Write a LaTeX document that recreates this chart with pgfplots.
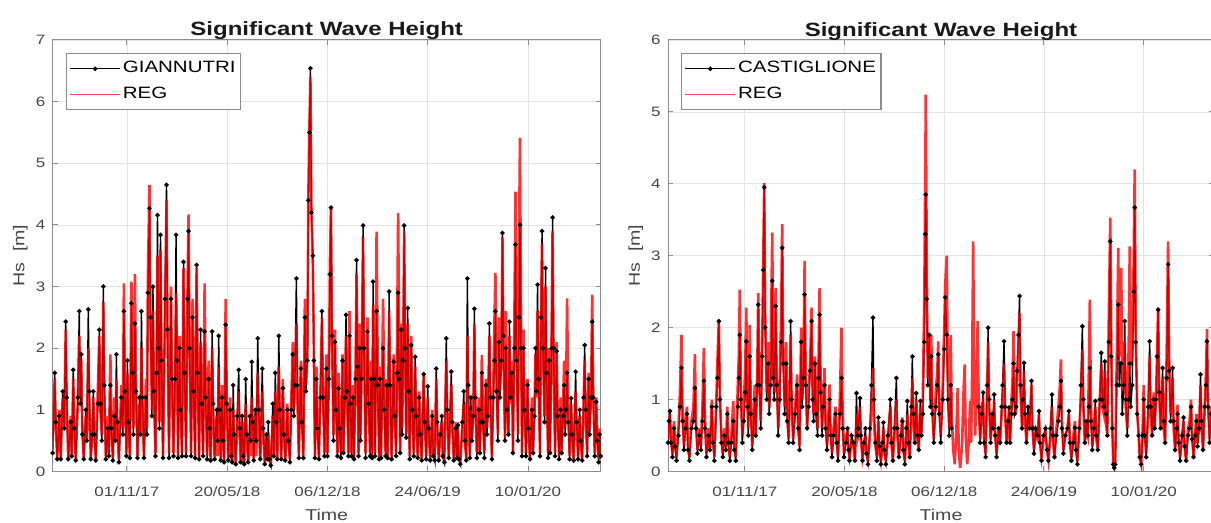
\documentclass[border=0pt]{standalone}
\usepackage{fontspec}
\setmainfont{Liberation Sans}[FakeStretch=1.25]
\usepackage{pgfplots}
\pgfplotsset{compat=1.18}
\usepackage{pgfplotstable}
\definecolor{axgray}{RGB}{140,140,140}
\definecolor{txtgray}{RGB}{70,70,70}
\definecolor{gridgray}{RGB}{228,228,228}

\pgfplotstableread[row sep=\\]{
d o r\\
-148 0.3 0.5\\ -144 1.6 1.5\\ -142 0.8 0.8\\ -139 0.2 0.22\\ -135 0.9 1.0\\ -132 0.2 0.2\\ -128 1.3 1.2\\ -125 0.7 0.7\\
-122 2.43 2.3\\ -120 1.2 1.1\\ -117 0.2 0.2\\ -112 0.8 0.9\\ -110 0.25 0.25\\ -107 1.65 1.5\\ -105 0.7 0.8\\ -102 0.18 0.2\\
-98 1.2 1.1\\ -95 2.6 2.2\\ -93 1.1 1.2\\ -91 1.9 1.8\\ -89 0.6 0.7\\ -86 0.2 0.2\\ -82 1.0 0.9\\ -80 0.5 0.5\\
-77 2.63 2.0\\ -75 1.3 1.1\\ -72 0.2 0.22\\ -69 0.6 0.6\\ -67 1.3 1.2\\ -65 0.6 0.6\\ -62 0.18 0.2\\ -58 1.1 1.3\\
-55 2.3 2.2\\ -53 1.1 1.0\\ -50 0.5 0.6\\ -47 3.0 2.75\\ -45 1.4 1.3\\ -42 0.2 0.22\\ -38 0.7 0.9\\ -36 0.25 0.3\\
-33 1.4 1.9\\ -31 0.7 0.8\\ -28 0.18 0.2\\ -25 0.9 1.2\\ -23 0.5 0.5\\ -21 1.9 1.5\\ -19 0.8 0.7\\ -16 0.15 0.18\\
-11 1.2 1.4\\ -8 0.6 0.7\\ -6 2.6 3.05\\ -4 1.3 1.4\\ -1 0.25 0.3\\ 1 1.8 1.6\\ 3 0.8 0.8\\ 6 0.22 0.25\\
9 2.73 3.08\\ 11 1.6 1.8\\ 13 0.6 0.7\\ 16 2.4 3.2\\ 18 1.3 1.5\\ 21 0.22 0.25\\ 25 1.2 1.1\\ 27 0.6 0.6\\
29 2.6 2.0\\ 31 1.2 1.0\\ 34 0.22 0.25\\ 38 1.2 1.5\\ 40 0.6 0.7\\ 42 2.9 3.2\\ 45 4.27 4.65\\ 47 2.5 2.4\\
50 0.9 1.0\\ 52 3.0 2.6\\ 54 1.3 1.2\\ 57 0.25 0.3\\ 59 1.6 1.5\\ 61 4.16 3.5\\ 63 2.0 1.9\\ 65 0.7 0.8\\
67 3.84 3.6\\ 69 1.8 1.9\\ 72 0.22 0.25\\ 76 2.8 2.5\\ 79 4.65 4.4\\ 81 2.3 2.2\\ 84 0.22 0.3\\ 88 2.8 3.0\\
90 1.5 1.4\\ 93 0.25 0.3\\ 96 1.5 1.4\\ 98 3.84 2.9\\ 100 1.8 1.6\\ 102 0.22 0.25\\ 105 2.0 2.2\\ 107 1.0 1.0\\
110 0.25 0.3\\ 113 3.4 3.3\\ 115 1.6 1.8\\ 118 0.25 0.3\\ 121 2.8 3.0\\ 123 3.9 4.17\\ 125 2.0 2.1\\ 128 0.25 0.3\\
131 2.5 2.8\\ 133 1.3 1.4\\ 136 0.22 0.25\\ 139 3.35 3.3\\ 141 1.6 1.7\\ 144 0.2 0.22\\ 147 2.3 2.1\\ 149 1.1 1.1\\
152 0.25 0.3\\ 155 2.27 3.05\\ 157 1.2 1.4\\ 160 0.2 0.25\\ 163 1.5 1.8\\ 165 0.7 0.8\\ 167 0.18 0.2\\ 170 2.27 2.0\\
172 1.1 1.0\\ 175 0.2 0.22\\ 179 1.0 0.9\\ 181 0.5 0.25\\ 183 2.2 1.7\\ 185 1.0 0.8\\ 187 0.18 0.2\\ 190 1.2 1.4\\
192 0.5 0.6\\ 194 0.15 0.18\\ 197 2.38 2.8\\ 199 1.1 1.3\\ 202 0.18 0.2\\ 206 1.0 1.2\\ 208 0.25 0.3\\ 210 0.15 0.15\\
212 1.4 1.0\\ 214 0.6 0.5\\ 217 0.12 0.15\\ 220 0.9 0.7\\ 223 1.65 1.3\\ 225 0.7 0.6\\ 227 0.15 0.15\\ 230 0.9 0.8\\
232 0.25 0.22\\ 234 0.12 0.12\\ 237 1.5 1.1\\ 239 0.6 0.5\\ 242 0.15 0.15\\ 245 0.9 0.6\\ 247 0.5 0.25\\ 249 1.78 1.2\\
251 0.8 0.6\\ 253 0.18 0.2\\ 256 1.0 0.9\\ 258 0.5 0.25\\ 261 2.16 1.6\\ 263 1.0 0.8\\ 266 0.2 0.2\\ 270 1.67 1.3\\
272 0.7 0.6\\ 275 0.12 0.15\\ 278 0.6 0.5\\ 280 0.2 0.2\\ 282 0.8 0.6\\ 284 0.2 0.18\\ 287 0.1 0.12\\ 291 1.1 0.9\\
293 0.25 0.25\\ 296 1.6 1.3\\ 298 0.8 0.7\\ 300 0.2 0.2\\ 303 2.2 1.7\\ 305 1.0 0.8\\ 308 0.2 0.22\\ 311 1.35 1.5\\
313 0.6 0.7\\ 316 0.18 0.2\\ 320 1.0 1.1\\ 322 0.5 0.5\\ 325 0.15 0.2\\ 328 1.0 1.2\\ 331 1.9 2.1\\ 333 0.9 1.0\\
335 1.4 1.3\\ 338 3.13 2.4\\ 340 1.4 1.2\\ 343 0.22 0.25\\ 347 1.67 1.8\\ 349 0.8 0.9\\ 352 0.22 0.25\\ 355 2.5 2.8\\
357 1.3 1.4\\ 360 1.8 1.9\\ 362 4.4 4.5\\ 364 5.5 5.6\\ 366 6.54 6.4\\ 368 4.2 4.3\\ 371 3.5 3.3\\ 373 1.8 1.9\\
375 0.22 0.25\\ 378 1.5 1.7\\ 380 0.7 0.8\\ 383 0.2 0.22\\ 386 1.2 1.3\\ 389 2.6 2.5\\ 391 1.2 1.3\\ 394 0.25 0.3\\
398 1.67 1.9\\ 400 0.25 0.3\\ 403 1.5 1.6\\ 405 3.2 3.4\\ 407 4.28 4.3\\ 409 2.2 2.3\\ 412 0.5 0.6\\ 415 2.1 2.3\\
417 1.0 1.1\\ 420 0.25 0.3\\ 422 1.35 1.6\\ 424 0.7 0.8\\ 427 0.22 0.3\\ 430 1.8 1.9\\ 432 0.3 0.3\\ 435 1.2 1.3\\
437 2.54 2.2\\ 439 1.3 1.2\\ 442 0.25 0.3\\ 444 2.2 2.6\\ 446 1.1 1.3\\ 448 0.25 0.3\\ 451 1.2 1.4\\ 453 0.2 0.22\\
456 1.5 1.6\\ 458 3.43 3.2\\ 460 1.7 1.8\\ 462 0.25 0.3\\ 464 2.0 2.4\\ 466 0.5 0.6\\ 468 1.5 1.6\\ 471 3.99 3.8\\
473 2.0 2.1\\ 476 0.22 0.3\\ 480 2.27 2.5\\ 482 1.1 1.2\\ 485 0.25 0.3\\ 487 1.5 1.8\\ 489 0.22 0.25\\ 491 3.08 2.7\\
493 1.5 1.5\\ 495 0.25 0.3\\ 498 2.6 3.89\\ 500 1.4 1.9\\ 503 0.2 0.22\\ 505 1.5 1.7\\ 507 0.22 0.25\\ 511 2.0 2.8\\
513 1.0 1.3\\ 516 0.25 0.3\\ 518 1.4 1.5\\ 520 0.22 0.25\\ 523 2.92 2.6\\ 525 1.4 1.3\\ 528 0.2 0.22\\ 532 1.78 1.9\\
534 0.9 0.9\\ 537 0.25 0.3\\ 539 1.6 2.2\\ 541 2.9 4.19\\ 543 1.5 2.0\\ 545 0.3 0.3\\ 547 2.3 2.4\\ 549 0.6 0.7\\
551 1.8 1.9\\ 553 3.99 3.9\\ 555 2.0 2.0\\ 557 0.55 0.6\\ 560 2.65 2.4\\ 562 1.3 1.2\\ 564 0.2 0.25\\ 567 2.05 2.2\\
569 1.0 1.1\\ 572 0.25 0.3\\ 575 1.86 1.7\\ 577 0.9 0.8\\ 580 0.22 0.25\\ 583 1.2 1.3\\ 585 0.6 0.6\\ 588 0.18 0.2\\
592 1.58 1.6\\ 594 0.8 0.8\\ 597 0.2 0.25\\ 600 1.38 1.2\\ 602 0.7 0.6\\ 605 0.18 0.2\\ 609 0.9 1.0\\ 611 0.25 0.3\\
614 0.18 0.2\\ 617 1.67 1.5\\ 619 0.8 0.7\\ 622 0.18 0.2\\ 625 0.6 0.6\\ 628 0.9 0.8\\ 630 0.25 0.25\\ 633 0.15 0.18\\
637 2.16 1.8\\ 639 1.0 0.9\\ 642 0.22 0.25\\ 647 1.62 1.4\\ 649 0.8 0.7\\ 652 0.18 0.2\\ 656 0.7 0.8\\ 658 0.22 0.25\\
660 0.75 0.8\\ 662 0.2 0.22\\ 665 0.12 0.15\\ 669 0.8 0.7\\ 672 1.3 1.1\\ 674 0.5 0.5\\ 677 0.18 0.2\\ 679 3.13 2.2\\
681 1.4 1.0\\ 684 0.22 0.25\\ 686 1.2 1.0\\ 688 0.5 0.5\\ 691 0.9 1.0\\ 693 2.64 2.4\\ 695 1.2 1.1\\ 698 0.22 0.3\\
702 1.0 1.2\\ 704 0.3 0.3\\ 706 0.8 0.9\\ 708 1.6 1.89\\ 710 0.8 0.9\\ 713 0.22 0.3\\ 716 1.4 1.5\\ 718 0.6 0.7\\
720 0.9 1.0\\ 723 2.4 2.2\\ 725 1.2 1.1\\ 728 0.2 0.22\\ 731 1.2 1.5\\ 733 1.8 2.4\\ 735 2.6 3.22\\ 737 1.3 1.6\\
740 0.5 0.6\\ 742 2.1 2.5\\ 744 1.2 1.3\\ 747 1.8 1.9\\ 749 3.87 3.8\\ 751 2.2 2.0\\ 754 0.5 0.55\\ 756 2.0 2.6\\
758 1.0 1.3\\ 761 0.6 0.6\\ 763 2.43 2.2\\ 765 1.2 1.1\\ 768 1.6 1.8\\ 770 0.3 0.3\\ 773 2.0 2.6\\ 775 3.68 4.54\\
777 1.8 2.3\\ 780 0.5 0.6\\ 782 2.5 3.6\\ 784 4.0 5.41\\ 786 2.0 2.6\\ 788 0.25 0.3\\ 791 2.0 2.3\\ 793 1.0 1.1\\
796 0.25 0.3\\ 799 1.4 1.5\\ 801 0.7 0.7\\ 804 0.2 0.22\\ 808 1.0 1.2\\ 810 0.3 0.3\\ 813 0.9 1.0\\ 815 2.0 1.9\\
817 1.3 1.2\\ 819 3.03 2.6\\ 821 1.5 1.4\\ 824 0.25 0.3\\ 826 2.5 2.6\\ 828 3.9 3.7\\ 830 2.0 1.9\\ 833 0.8 0.9\\
835 3.3 3.0\\ 837 1.6 1.5\\ 840 0.22 0.3\\ 842 1.8 2.0\\ 844 0.3 0.3\\ 847 2.0 2.2\\ 849 4.12 3.9\\ 851 2.0 1.9\\
854 0.25 0.3\\ 857 1.95 2.1\\ 859 0.9 1.0\\ 862 0.2 0.25\\ 865 1.0 1.2\\ 867 0.3 0.3\\ 870 0.9 1.0\\ 872 1.4 1.8\\
874 0.6 0.7\\ 876 1.0 1.3\\ 878 1.6 2.81\\ 880 0.8 1.2\\ 883 0.2 0.25\\ 886 1.19 1.1\\ 888 0.6 0.6\\ 891 0.18 0.2\\
895 1.62 1.3\\ 897 0.8 0.7\\ 900 0.2 0.22\\ 903 1.0 0.9\\ 905 0.5 0.5\\ 908 0.18 0.2\\ 911 1.2 1.1\\ 913 2.05 1.8\\
915 1.0 0.9\\ 918 0.25 0.3\\ 921 1.5 1.6\\ 923 0.6 0.7\\ 926 1.2 1.3\\ 928 2.43 2.87\\ 930 1.2 1.4\\ 933 0.25 0.3\\
936 1.13 1.2\\ 938 0.5 0.6\\ 941 0.15 0.2\\ 943 0.6 0.7\\ 945 0.25 0.3\\
}\leftdata

\pgfplotstableread[row sep=\\]{
d o r\\
-154 0.4 0.45\\ -152 0.7 0.6\\ -150 0.84 0.8\\ -148 0.4 0.45\\ -145 0.2 0.25\\ -142 0.6 0.7\\ -140 0.35 0.4\\ -137 0.15 0.2\\
-133 0.5 0.6\\ -130 0.9 1.1\\ -127 1.44 1.9\\ -125 0.7 0.9\\ -122 0.3 0.35\\ -119 0.6 0.7\\ -116 0.8 0.9\\ -114 0.3 0.35\\
-111 0.15 0.2\\ -107 0.6 0.7\\ -103 0.7 0.9\\ -100 1.16 1.63\\ -98 0.6 0.7\\ -95 0.25 0.3\\ -91 0.5 0.6\\ -88 0.3 0.35\\
-85 0.7 0.9\\ -82 1.26 1.72\\ -80 0.6 0.8\\ -77 0.2 0.25\\ -73 0.5 0.6\\ -70 0.3 0.3\\ -66 0.9 1.0\\ -64 0.4 0.5\\
-61 0.15 0.2\\ -57 0.9 1.0\\ -55 1.3 1.5\\ -52 2.09 2.11\\ -50 1.0 1.1\\ -47 0.4 0.5\\ -44 0.2 0.25\\ -41 0.5 0.6\\
-38 0.3 0.35\\ -35 0.8 0.9\\ -33 0.4 0.4\\ -30 0.15 0.2\\ -27 0.4 0.5\\ -23 0.7 0.98\\ -21 0.3 0.35\\ -18 0.15 0.2\\
-14 0.9 1.2\\ -12 1.3 1.6\\ -10 1.9 2.53\\ -8 1.0 1.2\\ -5 0.4 0.5\\ -2 0.7 0.9\\ 1 1.1 1.5\\ 3 1.81 2.28\\
5 0.9 1.1\\ 7 0.5 0.6\\ 10 1.6 2.04\\ 12 0.8 0.9\\ 15 0.3 0.35\\ 20 1.0 1.2\\ 22 0.5 0.5\\ 25 1.2 1.4\\
27 2.32 2.48\\ 29 1.2 1.3\\ 32 0.6 0.7\\ 35 1.6 1.8\\ 37 2.8 2.9\\ 39 3.95 4.01\\ 41 2.0 2.1\\ 44 1.0 1.1\\
47 1.5 1.8\\ 49 0.8 0.9\\ 52 1.2 1.6\\ 55 2.65 3.32\\ 57 1.3 1.6\\ 59 1.0 1.1\\ 62 2.3 2.55\\ 64 1.2 1.3\\
67 0.5 0.6\\ 70 1.0 1.2\\ 73 1.8 2.2\\ 75 3.11 3.44\\ 77 1.5 1.7\\ 80 0.8 0.9\\ 83 1.5 1.8\\ 85 0.7 0.8\\
88 0.4 0.45\\ 92 2.09 1.9\\ 94 1.0 0.9\\ 97 0.4 0.45\\ 101 0.8 0.9\\ 105 1.2 1.35\\ 107 0.6 0.6\\ 110 0.3 0.35\\
113 1.8 2.0\\ 115 0.9 1.0\\ 118 1.3 1.6\\ 120 2.46 2.93\\ 122 1.2 1.4\\ 125 0.6 0.6\\ 128 0.9 1.1\\ 131 1.4 1.5\\
134 2.09 2.28\\ 136 1.0 1.1\\ 138 0.7 0.8\\ 141 1.5 1.6\\ 143 0.8 0.8\\ 146 0.5 0.6\\ 148 1.3 1.6\\ 150 2.18 2.55\\
152 1.1 1.3\\ 155 0.5 0.6\\ 157 0.9 1.0\\ 160 1.2 1.44\\ 162 0.6 0.7\\ 165 0.3 0.35\\ 170 1.0 1.21\\ 172 0.5 0.6\\
175 0.2 0.25\\ 178 0.5 0.6\\ 182 0.8 0.9\\ 184 0.4 0.45\\ 187 0.15 0.2\\ 191 0.8 1.1\\ 194 1.3 2.0\\ 196 0.6 0.9\\
199 0.2 0.25\\ 203 0.4 0.5\\ 206 0.6 0.55\\ 208 0.3 0.3\\ 210 0.15 0.2\\ 214 0.5 0.4\\ 218 0.4 0.35\\ 221 0.15 0.15\\
224 1.09 0.8\\ 226 0.5 0.45\\ 228 0.6 0.5\\ 231 1.02 0.9\\ 233 0.5 0.45\\ 236 0.15 0.2\\ 239 0.4 0.35\\ 242 0.6 0.5\\
244 0.25 0.25\\ 247 0.1 0.15\\ 251 0.6 0.5\\ 254 1.2 0.9\\ 257 2.14 1.44\\ 259 1.0 0.7\\ 262 0.4 0.35\\ 265 0.15 0.2\\
268 0.75 0.7\\ 270 0.35 0.3\\ 273 0.1 0.15\\ 276 0.4 0.35\\ 278 0.68 0.6\\ 280 0.3 0.25\\ 283 0.1 0.15\\ 287 0.5 0.45\\
292 1.0 0.9\\ 294 0.4 0.4\\ 297 0.15 0.15\\ 300 0.6 0.5\\ 304 1.3 1.0\\ 306 0.6 0.5\\ 309 0.2 0.2\\ 313 0.5 0.5\\
316 0.7 0.75\\ 318 0.3 0.3\\ 321 0.1 0.15\\ 324 0.6 0.5\\ 326 0.98 0.8\\ 328 0.4 0.4\\ 331 0.2 0.2\\ 334 0.9 0.8\\
336 1.6 1.3\\ 338 0.8 0.7\\ 341 0.4 0.4\\ 344 1.09 1.0\\ 346 0.5 0.5\\ 349 0.3 0.3\\ 352 0.98 0.9\\ 354 0.5 0.5\\
357 0.8 1.0\\ 360 1.8 2.4\\ 362 3.3 4.2\\ 363 3.85 5.24\\ 365 2.4 2.8\\ 367 1.2 1.3\\ 370 1.9 1.9\\ 372 0.9 1.0\\
374 1.6 1.9\\ 376 0.8 0.9\\ 379 0.4 0.45\\ 383 0.9 1.1\\ 386 1.2 1.4\\ 388 1.63 1.81\\ 390 0.8 0.9\\ 393 0.4 0.5\\
397 1.0 1.2\\ 400 1.7 2.0\\ 402 2.42 2.6\\ 405 1.9 3.0\\ 407 1.0 1.4\\ 410 0.5 0.6\\ 413 1.2 1.9\\ 415 0.6 0.8\\
418 nan 0.3\\ 421 nan 0.1\\ 424 nan 0.5\\ 427 nan 1.16\\ 429 nan 0.3\\ 432 nan 0.05\\ 436 nan 0.4\\ 438 nan 1.0\\
441 nan 1.49\\ 443 nan 0.5\\ 446 nan 0.1\\ 449 nan 0.4\\ 452 nan 0.98\\ 454 nan 0.4\\ 456 nan 1.4\\ 458 nan 3.2\\
460 nan 1.3\\ 462 nan 0.5\\ 465 nan 1.2\\ 467 nan 2.09\\ 469 0.9 1.0\\ 472 0.4 0.45\\ 475 0.8 0.9\\ 478 1.1 0.98\\
480 0.4 0.45\\ 483 0.2 0.25\\ 486 1.2 1.1\\ 488 2.0 1.8\\ 490 1.0 0.9\\ 493 0.4 0.45\\ 496 0.8 0.7\\ 498 0.6 0.6\\
500 1.07 1.0\\ 502 0.5 0.5\\ 505 0.2 0.25\\ 509 0.6 0.6\\ 512 0.4 0.4\\ 515 0.9 0.8\\ 517 1.2 1.0\\ 520 1.81 1.5\\
522 0.9 0.8\\ 525 0.4 0.4\\ 528 0.7 0.6\\ 530 0.89 0.9\\ 532 0.4 0.4\\ 535 0.8 1.0\\ 537 1.0 1.3\\ 539 1.5 1.95\\
541 0.8 1.0\\ 544 0.9 0.8\\ 546 1.4 1.2\\ 549 1.9 1.8\\ 551 2.44 2.2\\ 553 1.2 1.1\\ 556 0.6 0.6\\ 558 1.0 0.9\\
560 1.51 1.4\\ 562 0.8 0.7\\ 565 0.4 0.4\\ 568 0.9 0.8\\ 571 0.6 0.6\\ 575 1.26 1.2\\ 577 0.6 0.6\\ 580 0.25 0.3\\
583 0.6 0.5\\ 587 0.5 0.45\\ 590 0.84 0.8\\ 592 0.4 0.4\\ 595 0.15 0.2\\ 599 0.5 0.45\\ 603 0.6 0.55\\ 606 0.3 0.3\\
609 0.15 0.15\\ 613 0.6 0.5\\ 616 1.07 0.9\\ 618 0.5 0.45\\ 621 0.2 0.2\\ 625 0.5 0.6\\ 629 0.7 0.9\\ 632 0.9 1.2\\
634 1.26 1.56\\ 636 0.6 0.7\\ 639 0.25 0.3\\ 643 0.5 0.5\\ 647 0.6 0.6\\ 650 0.84 0.8\\ 652 0.4 0.4\\ 655 0.15 0.2\\
659 0.4 0.5\\ 662 0.61 0.7\\ 664 0.3 0.35\\ 667 0.1 0.15\\ 671 0.6 0.6\\ 674 1.2 1.0\\ 677 2.02 1.7\\ 679 1.0 0.9\\
682 0.4 0.4\\ 685 0.7 0.6\\ 688 0.5 0.5\\ 690 0.9 1.4\\ 692 1.44 2.39\\ 694 0.7 1.0\\ 697 0.3 0.35\\ 700 0.6 0.6\\
703 0.98 0.9\\ 705 0.5 0.45\\ 708 0.3 0.3\\ 712 1.0 1.0\\ 715 1.65 1.5\\ 717 1.0 0.9\\ 720 0.9 0.8\\ 722 1.53 1.4\\
724 0.8 0.7\\ 727 0.5 0.5\\ 730 1.8 2.1\\ 733 3.2 3.53\\ 735 1.6 1.8\\ 737 0.6 0.6\\ 739 0.1 0.1\\ 741 0.05 0.05\\
743 0.1 0.15\\ 746 1.2 1.6\\ 749 2.32 3.11\\ 751 1.2 1.6\\ 753 1.5 2.0\\ 755 1.5 2.83\\ 757 0.8 1.2\\ 760 1.2 1.3\\
762 2.09 1.8\\ 764 1.0 0.9\\ 767 0.5 0.6\\ 770 1.0 1.8\\ 772 1.5 3.13\\ 774 0.9 1.5\\ 777 1.2 1.6\\ 780 2.5 3.0\\
782 3.67 4.2\\ 784 1.8 2.0\\ 787 0.8 0.8\\ 790 0.5 0.51\\ 792 0.2 0.2\\ 795 0.1 0.1\\ 798 0.5 0.6\\ 800 1.0 1.2\\
802 0.5 0.6\\ 805 0.2 0.25\\ 809 0.9 0.8\\ 812 1.81 1.6\\ 814 0.9 0.8\\ 817 0.5 0.5\\ 820 1.0 1.1\\ 822 0.6 0.6\\
825 1.0 1.1\\ 827 1.6 1.7\\ 829 2.25 2.28\\ 831 1.1 1.1\\ 834 0.6 0.6\\ 838 1.44 1.3\\ 840 0.7 0.6\\ 843 0.4 0.4\\
846 1.3 1.6\\ 849 2.88 3.2\\ 851 1.4 1.6\\ 854 0.7 0.8\\ 858 1.44 1.3\\ 860 0.7 0.6\\ 863 0.3 0.3\\ 866 0.6 0.6\\
868 0.8 0.93\\ 870 0.4 0.45\\ 873 0.15 0.2\\ 877 0.5 0.5\\ 880 0.75 0.7\\ 882 0.35 0.35\\ 885 0.15 0.15\\ 889 0.5 0.6\\
892 0.6 0.7\\ 895 0.9 1.0\\ 897 0.45 0.5\\ 900 0.2 0.2\\ 903 0.5 0.5\\ 906 0.7 0.8\\ 908 0.35 0.4\\ 911 0.6 0.6\\
914 1.35 1.2\\ 916 0.7 0.6\\ 919 0.3 0.3\\ 922 0.9 0.8\\ 925 1.2 1.4\\ 927 1.81 1.98\\ 929 0.9 1.0\\ 932 0.4 0.45\\
935 0.8 0.9\\ 937 0.4 0.45\\ 940 0.2 0.25\\ 942 0.5 0.6\\
}\rightdata

\pgfplotsset{
  hs/.style={
    scale only axis, height=215.75pt, anchor=south west,
    ymin=0,
    axis line style={axgray, line width=0.5pt},
    tick style={axgray, line width=0.5pt},
    major tick length=2.5pt, tick align=inside,
    grid=major, grid style={gridgray, line width=0.4pt},
    ticklabel style={font=\fontsize{6.8}{8}\selectfont, text=txtgray},
    /pgf/number format/assume math mode=true,
    xtick={0,200,400,600,800},
    xticklabels={01/11/17,20/05/18,06/12/18,24/06/19,10/01/20},
    xticklabel style={anchor=center, yshift=-10.25pt},
    yticklabel style={anchor=east, inner sep=0pt, xshift=-3.5pt},
    title={\textbf{Significant Wave Height}},
    title style={font=\fontsize{9.6}{11}\selectfont, text=black!90, at={(axis description cs:0.5,1)}, anchor=base, yshift=-4pt},
    xlabel={Time}, ylabel={Hs\ \ [m]},
    label style={font=\fontsize{7.85}{9}\selectfont, text=txtgray},
    xlabel style={at={(axis description cs:0.5,-0.1008)}, anchor=center},
    ylabel style={at={(axis description cs:-0.059,0.5)}, anchor=center},
    legend style={at={(0.024,0.97)}, anchor=north west, draw=axgray, line width=0.6pt,
      font=\fontsize{8.2}{9.5}\selectfont, fill=white,
      inner xsep=1.5pt, inner ysep=3pt, row sep=3.5pt,
      nodes={inner sep=1pt}},
    legend cell align=left,
    legend image code/.code={\draw[mark repeat=2,mark phase=2,#1] plot coordinates {(0pt,0pt) (12.5pt,0pt) (25pt,0pt)};},
    unbounded coords=jump,
  },
  obs/.style={color=black, line width=0.7pt, mark=*, mark size=0.75pt, mark options={solid, fill=black}},
  reg/.style={color=red, line width=1.3pt, draw opacity=0.8},
}

\begin{document}
\begin{tikzpicture}
\begin{axis}[hs, at={(26.35pt,25.75pt)}, width=274pt, xmin=-148, xmax=945, ymax=7, ytick={0,1,2,3,4,5,6,7}]
\addplot[obs] table[x=d,y=o]{\leftdata}; \addlegendentry{GIANNUTRI}
\addplot[reg, forget plot] table[x=d,y=r]{\leftdata};
\addlegendimage{color=red!70, line width=0.6pt}\addlegendentry{REG}
\end{axis}
\begin{axis}[hs, at={(334pt,25.75pt)}, width=273pt, xmin=-154, xmax=941, ymax=6, ytick={0,1,2,3,4,5,6}]
\addplot[obs] table[x=d,y=o]{\rightdata}; \addlegendentry{CASTIGLIONE}
\addplot[reg, forget plot] table[x=d,y=r]{\rightdata};
\addlegendimage{color=red!70, line width=0.6pt}\addlegendentry{REG}
\end{axis}
\pgfresetboundingbox
\path[use as bounding box] (0,0) rectangle (605.5pt,261.5pt);
\end{tikzpicture}
\end{document}
